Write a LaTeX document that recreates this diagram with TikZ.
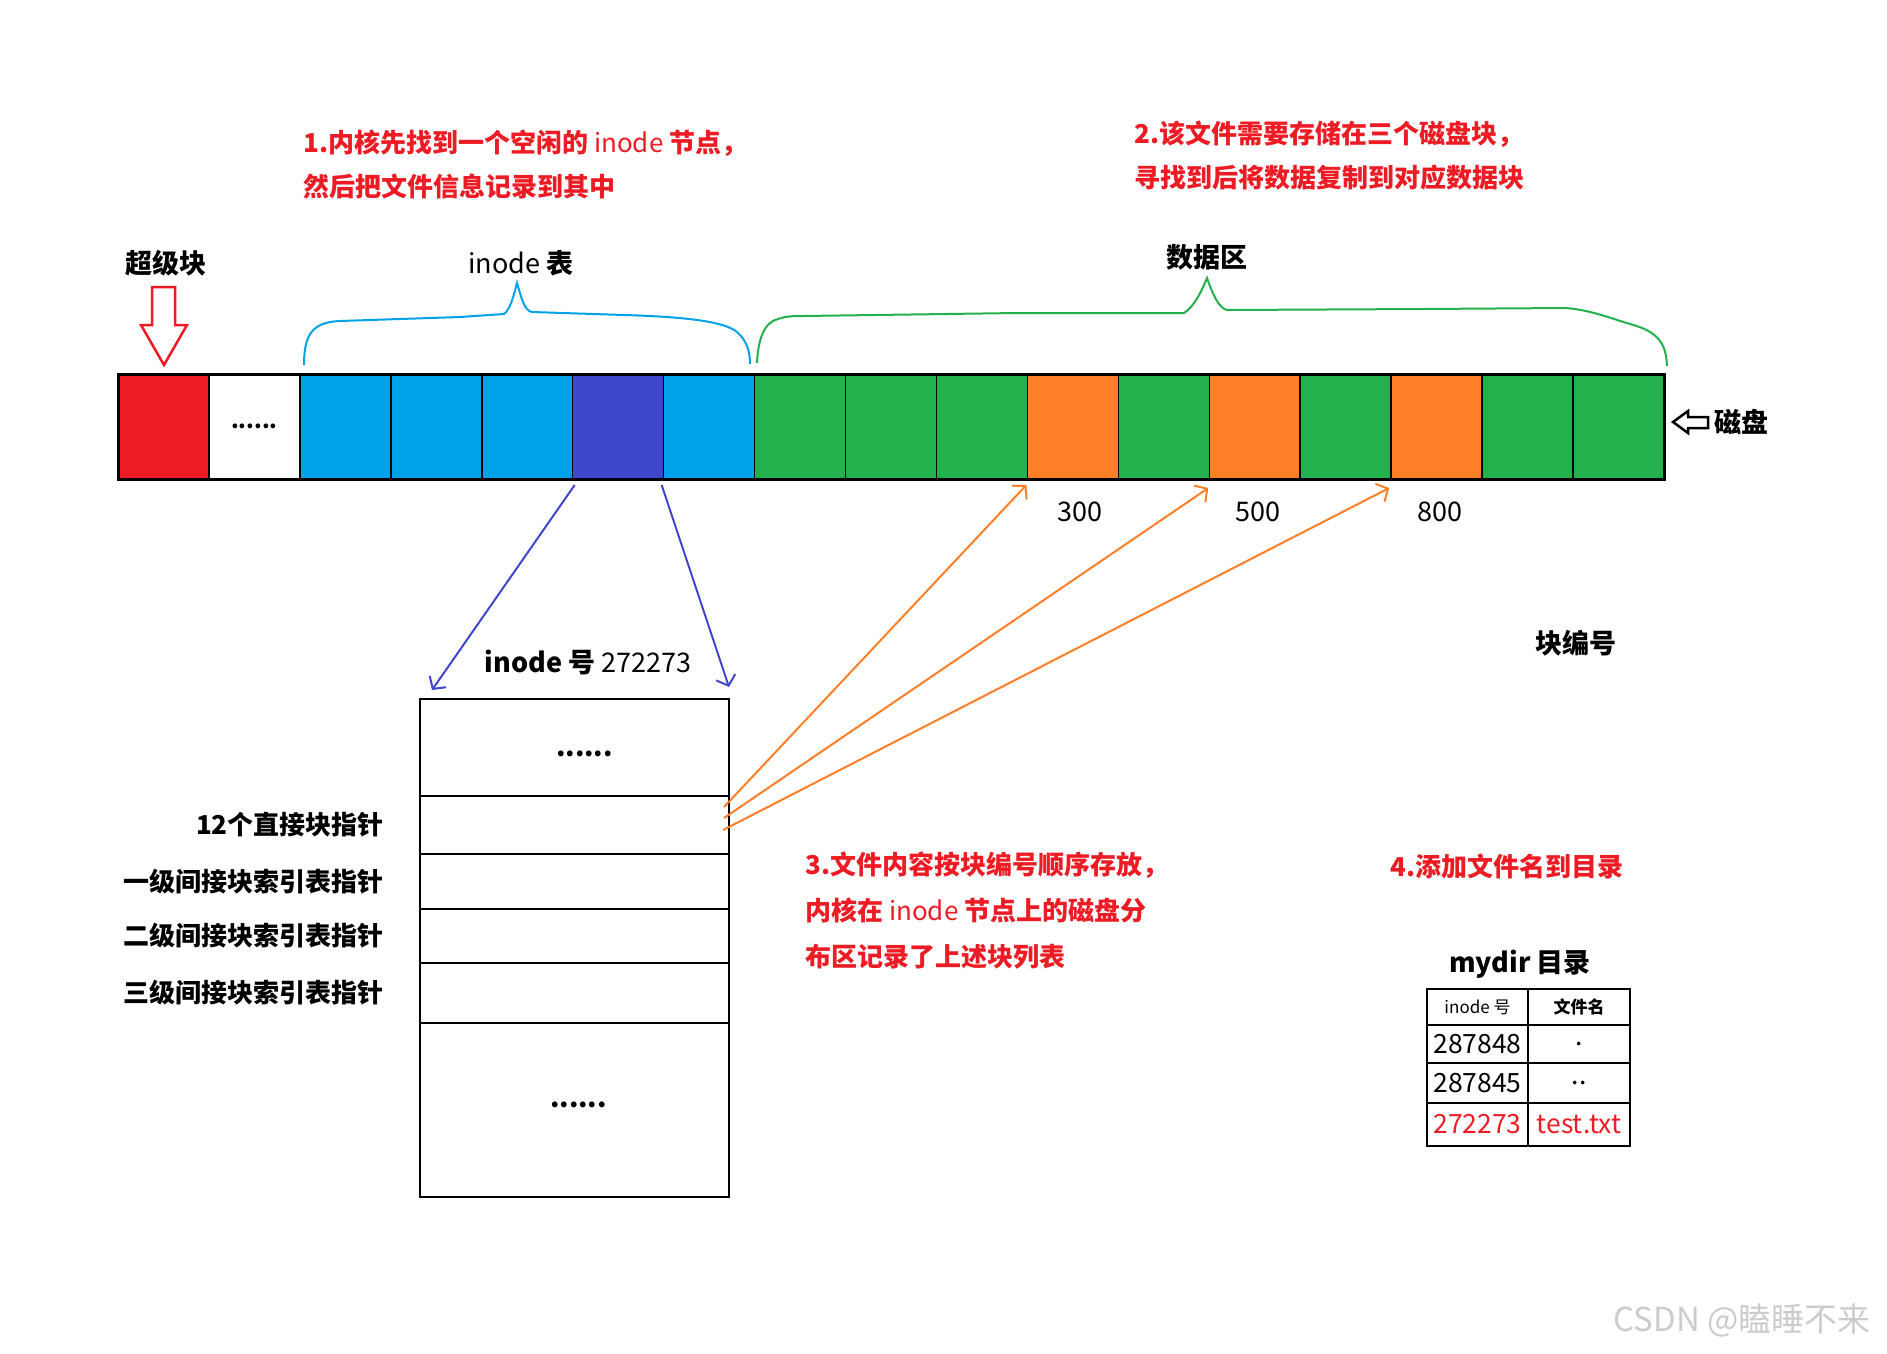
\documentclass[tikz,border=0pt]{standalone}
\usepackage{fontspec}
\setmainfont{Noto Sans CJK SC}
\usetikzlibrary{positioning,calc,arrows.meta}
\definecolor{pred}{HTML}{ED1C24}
\definecolor{pblue}{HTML}{00A2E8}
\definecolor{pindigo}{HTML}{3F48CC}
\definecolor{pgreen}{HTML}{22B14C}
\definecolor{porange}{HTML}{FF7F27}
\newcommand{\fsz}[1]{\fontsize{#1}{#1}\selectfont}

\begin{document}
\begin{tikzpicture}[x=1pt, y=-1pt,
    cell/.style={draw, line width=1.5pt, minimum width=90.94pt, minimum height=105pt, inner sep=0pt, outer sep=0pt, anchor=north west},
    slot/.style={draw, line width=2.8pt, minimum width=309pt, inner sep=0pt, outer sep=0pt},
    lab/.style={font=\fsz{27}\bfseries, inner sep=0pt},
    note/.style={font=\fontsize{26}{44}\selectfont\bfseries, text=pred, align=left, anchor=west, inner sep=0pt},
    tcell/.style={draw, line width=2.5pt, inner sep=0pt, outer sep=0pt, font=\fsz{26.5}},
    hand/.style={line width=2pt, -{Straight Barb[length=9pt, width=20pt]}}
  ]
  \useasboundingbox[fill=white] (0,0) rectangle (1887,1353);

  % disk blocks
  \foreach \col [count=\i from 0] in {pred,white,pblue,pblue,pblue,pindigo,pblue,pgreen,pgreen,pgreen,porange,pgreen,porange,pgreen,porange,pgreen,pgreen}
    \node[cell, fill=\col] (c\i) at (118+\i*90.94, 374) {};
  \draw[line width=3pt] (c0.north west) rectangle (c16.south east);
  \node[font=\fsz{22}\bfseries] at (c1) {......};

  % super block
  \node[lab] (super) at (166,263) {超级块};
  \draw[pred, line width=2.5pt, fill=white] (152,287) -- (175,287) -- (175,325) -- (187,325) -- (164,365) -- (141,325) -- (152,325) -- cycle;

  % inode table brace
  \node[font=\fsz{27}] (itab) at (521,263) {inode \textbf{表}};
  \draw[pblue, line width=2pt] (304,365) .. controls (304,335) and (312,322) .. (340,321)
    -- (460,317) -- (504,314) .. controls (510,310) and (514,295) .. (517,283)
    .. controls (521,296) and (524,311) .. (532,312) -- (624,315)
    .. controls (690,317) and (725,322) .. (737,332) .. controls (746,340) and (750,350) .. (750,364);

  % data brace
  \node[lab] (data) at (1207,257) {数据区};
  \draw[pgreen, line width=2pt] (757,363) .. controls (758,340) and (764,322) .. (778,319)
    .. controls (786,316) and (795,316) .. (803,316) -- (1018,313) -- (1184,313)
    .. controls (1195,306) and (1202,290) .. (1207,278) .. controls (1212,292) and (1218,308) .. (1227,310)
    -- (1423,309) -- (1566,308) .. controls (1590,310) and (1610,318) .. (1630,324)
    .. controls (1660,332) and (1666,345) .. (1667,366);

  % disk label
  \node[lab, anchor=west] (disk) at (1714,422) {磁盘};
  \draw[line width=2.5pt, line join=miter] (1673,422) -- (1688,411) -- (1688,417) -- (1708,417)
    -- (1708,428) -- (1688,428) -- (1688,433) -- cycle;

  % block numbers
  \node[font=\fsz{27}] (n300) at ($(c10.south)+(7,33)$) {300};
  \node[font=\fsz{27}] (n500) at ($(c12.south)+(3,33)$) {500};
  \node[font=\fsz{27}] (n800) at ($(c14.south)+(3,33)$) {800};
  \node[lab] (blkno) at (1576,643) {块编号};

  % inode
  \node[slot, minimum height=97pt, anchor=north] (r1) at (574.5,699) {};
  \node[slot, minimum height=58pt, below=0pt of r1] (r2) {};
  \node[slot, minimum height=55pt, below=0pt of r2] (r3) {};
  \node[slot, minimum height=54pt, below=0pt of r3] (r4) {};
  \node[slot, minimum height=60pt, below=0pt of r4] (r5) {};
  \node[slot, minimum height=174pt, below=0pt of r5] (r6) {};
  \node[font=\fsz{27}\bfseries] at ($(r1)+(10,6)$) {......};
  \node[font=\fsz{27}\bfseries] at ($(r6)+(4,-5)$) {......};
  \node[font=\fsz{27}] (ino) at (588,663) {\textbf{inode 号} 272273};
  \node[lab, font=\fsz{26}\bfseries, left=36pt of r2.west] {12个直接块指针};
  \node[lab, font=\fsz{26}\bfseries, left=36pt of r3.west] {一级间接块索引表指针};
  \node[lab, font=\fsz{26}\bfseries, left=36pt of r4.west] {二级间接块索引表指针};
  \node[lab, font=\fsz{26}\bfseries, left=36pt of r5.west] {三级间接块索引表指针};

  % pointers
  \coordinate (p1) at ($(c5.south west)+(2,6)$);
  \coordinate (p2) at ($(c5.south east)+(-2,6)$);
  \coordinate (q1) at ($(r1.north west)+(12,-9)$);
  \coordinate (q2) at ($(r1.north east)+(0,-12)$);
  \draw[pindigo, hand] (p1) -- (q1);
  \draw[pindigo, hand] (p2) -- (q2);
  \draw[porange, hand] ($(r2.north east)+(-5,11)$) -- ($(c10.south west)+(-1,6)$);
  \draw[porange, hand] ($(r2.north east)+(-5,22)$) -- ($(c12.south west)+(-1,9)$);
  \draw[porange, hand] ($(r2.north east)+(-6,34)$) -- ($(c14.south west)+(-2,9)$);

  % steps
  \node[note] (s1) at (303,165) {1.内核先找到一个空闲的 \mdseries inode \bfseries 节点，\\然后把文件信息记录到其中};
  \node[note] (s2) at (1134,156) {2.该文件需要存储在三个磁盘块，\\寻找到后将数据复制到对应数据块};
  \node[note, font=\fontsize{26}{46}\selectfont\bfseries] (s3) at (805,911) {3.文件内容按块编号顺序存放，\\内核在 \mdseries inode \bfseries 节点上的磁盘分\\布区记录了上述块列表};
  \node[note] (s4) at (1390,866) {4.添加文件名到目录};

  % directory
  \node[lab] (dir) at (1520,964) {mydir 目录};
  \node[tcell, minimum width=101pt, minimum height=36pt, anchor=north west, font=\fsz{17}] (h1) at (1427,989) {inode 号};
  \node[tcell, minimum width=102pt, minimum height=36pt, right=0pt of h1, font=\fsz{17}\bfseries] (h2) {文件名};
  \node[tcell, minimum width=101pt, minimum height=38pt, below=0pt of h1] (a1) {287848};
  \node[tcell, minimum width=102pt, minimum height=38pt, below=0pt of h2] (b1) {.};
  \node[tcell, minimum width=101pt, minimum height=40pt, below=0pt of a1] (a2) {287845};
  \node[tcell, minimum width=102pt, minimum height=40pt, below=0pt of b1] (b2) {..};
  \node[tcell, minimum width=101pt, minimum height=43pt, below=0pt of a2, text=pred] (a3) {272273};
  \node[tcell, minimum width=102pt, minimum height=43pt, below=0pt of b2, text=pred] (b3) {test.txt};

  \node[font=\fsz{33}, text=black!20] (wm) at (1742,1320) {CSDN @瞌睡不来};
\end{tikzpicture}
\end{document}
